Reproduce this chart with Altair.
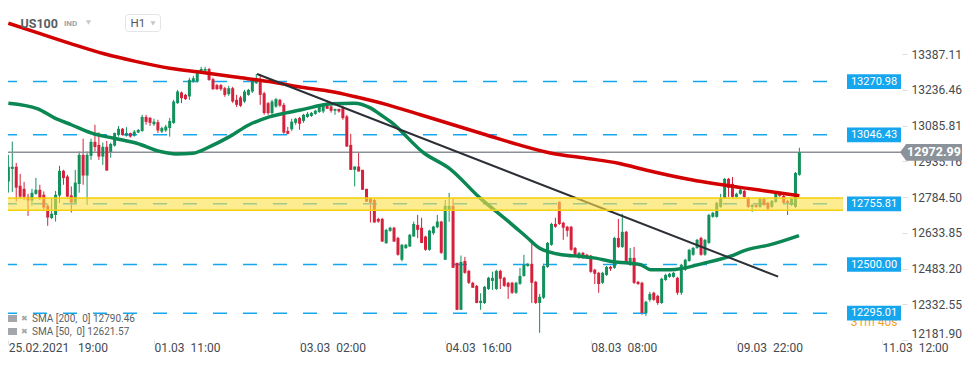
import altair as alt
import pandas as pd

# ---------------- data ----------------
opens = [12850,12903,12912,12832,12819,12785,12770,12798,12815,12794,12747,12696,12709,12791,12895,12871,12791,12761,12839,12962,
         12875,12958,13017,13004,12955,12996,12975,13001,13046,13072,13043,13054,13043,13056,13063,13122,13118,13091,13100,13060,
         13065,13075,13096,13180,13225,13215,13208,13271,13271,13313,13317,13324,13281,13256,13256,13243,13218,13243,13194,13204,
         13187,13215,13229,13264,13278,13222,13180,13138,13166,13194,13173,13063,13070,13097,13118,13105,13122,13126,13135,13143,
         13145,13169,13166,13148,13156,13159,13124,13004,12899,12913,12899,12819,12777,12772,12692,12692,12590,12642,12655,12612,
         12520,12569,12576,12618,12667,12655,12618,12562,12632,12657,12681,12520,12730,12747,12507,12309,12515,12473,12423,12410,
         12338,12338,12397,12431,12397,12473,12444,12423,12423,12381,12419,12452,12494,12503,12427,12338,12360,12490,12583,12671,
         12764,12676,12659,12659,12570,12528,12549,12541,12537,12478,12465,12423,12456,12490,12486,12612,12574,12638,12499,12528,
         12427,12423,12296,12351,12381,12368,12338,12435,12448,12448,12444,12381,12478,12515,12541,12570,12612,12541,12591,12701,
         12701,12743,12781,12861,12840,12785,12798,12810,12781,12743,12751,12743,12777,12760,12743,12764,12802,12789,12768,12751,
         12743,12878]
highs = [12962,13018,12928,12882,12848,12798,12819,12865,12836,12808,12756,12777,12810,12916,12899,12878,12829,12899,12976,13030,
         12976,13030,13089,13057,13014,13021,13014,13056,13084,13075,13079,13056,13067,13071,13131,13131,13122,13114,13110,13081,
         13089,13118,13194,13236,13229,13219,13287,13295,13320,13333,13333,13329,13287,13261,13261,13249,13253,13249,13215,13211,
         13236,13240,13280,13303,13303,13228,13185,13194,13202,13198,13181,13080,13114,13118,13122,13135,13143,13143,13152,13169,
         13180,13191,13173,13156,13156,13169,13131,13051,12913,12972,12899,12819,12781,12777,12697,12697,12650,12659,12659,12617,
         12587,12587,12629,12681,12709,12697,12621,12646,12663,12709,12684,12772,12802,12777,12507,12538,12532,12478,12427,12414,
         12379,12410,12448,12470,12478,12478,12448,12427,12427,12427,12486,12541,12507,12604,12431,12376,12503,12595,12676,12697,
         12765,12680,12663,12663,12574,12553,12553,12545,12541,12482,12469,12469,12494,12494,12617,12692,12714,12642,12570,12574,
         12431,12427,12347,12385,12385,12372,12444,12461,12465,12469,12448,12503,12524,12566,12574,12608,12617,12608,12714,12722,
         12764,12798,12865,12865,12869,12802,12819,12815,12785,12756,12756,12781,12781,12764,12772,12802,12806,12794,12772,12781,
         12890,12992]
lows = [12803,12806,12765,12780,12772,12705,12747,12794,12772,12730,12663,12691,12681,12759,12836,12784,12719,12759,12803,12836,
        12751,12941,12976,12941,12920,12895,12950,12997,13039,13043,13039,13035,13039,13054,13059,13089,13084,13084,13054,13054,
        13059,13039,13093,13177,13180,13194,13194,13266,13266,13309,13312,13274,13236,13236,13232,13207,13211,13181,13164,13164,
        13181,13211,13223,13261,13173,13131,13131,13131,13160,13164,13051,13048,13063,13089,13068,13097,13118,13122,13131,13139,
        13138,13156,13140,13131,13140,13110,12996,12899,12829,12892,12815,12764,12677,12677,12676,12595,12587,12638,12595,12537,
        12513,12566,12574,12617,12611,12590,12558,12558,12625,12653,12545,12520,12680,12486,12309,12309,12461,12418,12402,12337,
        12309,12334,12393,12393,12393,12397,12406,12355,12376,12376,12414,12448,12490,12338,12334,12212,12355,12486,12579,12655,
        12667,12604,12617,12558,12532,12524,12524,12524,12465,12418,12381,12418,12452,12473,12482,12570,12570,12507,12494,12418,
        12414,12288,12284,12343,12347,12330,12334,12431,12444,12444,12372,12372,12473,12511,12537,12566,12537,12537,12587,12697,
        12697,12739,12777,12785,12781,12781,12794,12781,12739,12722,12739,12739,12747,12730,12739,12760,12785,12756,12709,12747,
        12739,12874]
closes = [12912,12912,12824,12786,12785,12770,12802,12815,12781,12740,12698,12714,12794,12895,12864,12786,12761,12845,12962,12875,
          12962,13017,12995,12955,12996,12896,13008,13054,13072,13046,13054,13039,13060,13067,13122,13101,13097,13102,13065,13075,
          13081,13105,13187,13229,13201,13197,13278,13285,13313,13324,13324,13278,13239,13239,13239,13215,13243,13187,13173,13169,
          13229,13236,13278,13278,13215,13138,13138,13187,13197,13170,13056,13051,13102,13114,13093,13131,13135,13139,13148,13164,
          13176,13156,13148,13156,13145,13117,12997,12899,12913,12892,12815,12765,12761,12677,12681,12597,12646,12655,12597,12541,
          12583,12583,12625,12671,12646,12591,12562,12643,12660,12681,12549,12747,12747,12486,12309,12511,12465,12423,12402,12338,
          12347,12406,12444,12444,12473,12440,12410,12406,12381,12423,12452,12499,12503,12423,12338,12364,12494,12591,12671,12659,
          12671,12655,12642,12562,12537,12549,12528,12528,12469,12461,12418,12465,12490,12482,12612,12574,12638,12511,12528,12423,
          12418,12296,12343,12376,12351,12338,12440,12456,12461,12465,12381,12499,12520,12562,12570,12604,12541,12604,12709,12718,
          12760,12781,12861,12823,12785,12798,12815,12785,12743,12751,12743,12777,12751,12735,12768,12798,12789,12760,12760,12777,
          12886,12973]

sma200_idx = [0, 7.5, 16, 24.3, 32.6, 41, 49.4, 57.7, 66.3, 74.5, 82, 87.9, 96.4, 104.7, 113, 121.5, 129.8, 138, 146.7, 155,
              162.5, 172.5, 186.8, 193.4, 201]
sma200_val = [13517, 13476, 13430, 13388, 13355, 13327, 13309, 13290, 13271, 13247, 13229, 13208, 13173, 13131, 13089, 13046,
              13004, 12969, 12948, 12927, 12896, 12860, 12823, 12808, 12790]

sma50_idx = [0, 7.5, 11.7, 16, 21, 26.8, 32.6, 38.6, 42.6, 46.9, 51.2, 56.2, 61.2, 66.3, 74.5, 82, 87.9, 92.1, 94.6, 97.2,
             105.5, 112.2, 119.8, 126.6, 131.6, 134.9, 137.4, 140.6, 145.7, 149.2, 153.2, 157.5, 160.7, 163.2, 168.3, 176.8,
             183.3, 187.6, 193.4, 200.9]
sma50_val = [13180, 13156, 13118, 13089, 13055, 13032, 13011, 12976, 12966, 12969, 12997, 13039, 13089, 13122, 13152, 13177,
             13180, 13159, 13131, 13101, 12971, 12903, 12781, 12688, 12617, 12570, 12553, 12541, 12534, 12527, 12513, 12506,
             12499, 12478, 12478, 12506, 12534, 12562, 12583, 12622]

trend_idx = [63.2, 195.6]
trend_val = [13303, 12449]

levels = [13270.98, 13046.43, 12755.81, 12500.00, 12295.01]
zone = [12729, 12780]
last_price = 12972.99

x_tick_idx = [0, 37, 74, 111, 148, 185, 222]
x_tick_lab = ["25.02.2021\u00a0\u00a0\u00a019:00", "01.03\u00a0\u00a011:00", "03.03\u00a0\u00a002:00",
              "04.03\u00a0\u00a016:00", "08.03\u00a0\u00a008:00", "09.03\u00a0\u00a022:00", "11.03\u00a0\u00a012:00"]
y_ticks = [12181.90, 12332.55, 12483.20, 12633.85, 12784.50, 12935.16, 13085.81, 13236.46, 13387.11]

legend_lines = ["SMA [200,\u00a0 0] 12790.46", "SMA [50,\u00a0 0] 12621.57"]

# ---------------- styling ----------------
W, H = 894, 332
GREEN = "#13905c"
RED = "#d5213b"
BLUE = "#16a6ee"
FONT = "Roboto"

xs = alt.Scale(domain=[1.18, 225.8], nice=False, zero=False)
ys = alt.Scale(domain=[12181.9, 13581.0], nice=False, zero=False)

lab_expr = " : ".join(f"datum.value == {v} ? '{t}'" for v, t in zip(x_tick_idx, x_tick_lab)) + " : ''"

x_axis = alt.Axis(values=x_tick_idx, labelExpr=lab_expr, labelAlign="left", labelFont=FONT, labelFontSize=12,
                  labelColor="#454a50", tickColor="#e2e2e2", tickSize=4, labelPadding=-2, domain=False,
                  grid=False, title=None, orient="bottom", labelOverlap=False)
y_axis = alt.Axis(values=y_ticks, format=".2f", orient="right", labelFont=FONT, labelFontSize=12,
                  labelColor="#454a50", tickColor="#dedede", tickSize=5, labelPadding=4, domain=False,
                  grid=False, title=None, labelFlush=True, labelOverlap=False)


def X(f):
    return alt.X(f, type="quantitative", scale=xs, axis=x_axis)


def Y(f):
    return alt.Y(f, type="quantitative", scale=ys, axis=y_axis)


candles = pd.DataFrame({"i": list(range(len(opens))), "o": opens, "h": highs, "l": lows, "c": closes})
col = alt.condition("datum.c >= datum.o", alt.value(GREEN), alt.value(RED))

wicks = alt.Chart(candles).mark_rule(strokeWidth=1).encode(x=X("i"), y=Y("l"), y2="h:Q", color=col)
bodies = alt.Chart(candles).mark_bar(size=3).encode(x=X("i"), y=Y("o"), y2="c:Q", color=col)

lv = pd.DataFrame({"v": levels, "lab": [f"{v:.2f}" for v in levels]})
level_lines = alt.Chart(lv).mark_rule(strokeWidth=1.5, strokeDash=[14, 16], color=BLUE).encode(
    x=alt.value(-5), x2=alt.value(835), y=Y("v"))

price_df = pd.DataFrame({"v": [last_price], "lab": [f"{last_price:.2f}"]})
price_line = alt.Chart(price_df).mark_rule(strokeWidth=1.5, color="#8b9096").encode(
    x=alt.value(-8), x2=alt.value(893), y=Y("v"))

s200 = pd.DataFrame({"i": sma200_idx, "v": sma200_val})
s50 = pd.DataFrame({"i": sma50_idx, "v": sma50_val})
sma200 = alt.Chart(s200).mark_line(color="#d20000", strokeWidth=3.5, interpolate="monotone").encode(x=X("i"), y=Y("v"))
sma50 = alt.Chart(s50).mark_line(color="#0b8753", strokeWidth=3.5, interpolate="monotone").encode(x=X("i"), y=Y("v"))

tr = pd.DataFrame({"i": trend_idx, "v": trend_val})
trend = alt.Chart(tr).mark_line(color="#2c3036", strokeWidth=2).encode(x=X("i"), y=Y("v"))

zdf = pd.DataFrame({"lo": [zone[0]], "hi": [zone[1]]})
zone_fill = alt.Chart(zdf).mark_rect(color="#fde047", opacity=0.6).encode(
    x=alt.value(-8), x2=alt.value(835), y=Y("lo"), y2="hi:Q")
zb = pd.DataFrame({"v": zone})
zone_border = alt.Chart(zb).mark_rule(color="#f4cf0a", strokeWidth=1.5).encode(
    x=alt.value(-8), x2=alt.value(835), y=Y("v"))

one = pd.DataFrame({"k": [0]})
countdown = alt.Chart(one).mark_text(text="31m 40s", font=FONT, fontSize=12, color="#f5a21b",
                                     align="center", baseline="middle").encode(
    x=alt.value(866), y=alt.value(314))

level_boxes = alt.Chart(lv).transform_calculate(top="datum.v + 31", bot="datum.v - 31").mark_rect(color=BLUE).encode(
    x=alt.value(839), x2=alt.value(893), y=Y("top"), y2="bot:Q")
level_text = alt.Chart(lv).mark_text(font=FONT, fontSize=11, color="white", align="center", baseline="middle").encode(
    x=alt.value(866), y=Y("v"), text="lab:N")

price_box = alt.Chart(price_df).mark_point(
    shape="M -1 0 L -0.8 -0.27 L 1 -0.27 L 1 0.27 L -0.8 0.27 Z", size=3844, filled=True,
    color="#8b9299", opacity=1).encode(x=alt.value(923), y=Y("v"))
price_text = alt.Chart(price_df).mark_text(font=FONT, fontSize=12.5, fontWeight="bold", color="white",
                                           align="center", baseline="middle").encode(
    x=alt.value(926), y=Y("v"), text="lab:N")

# header
hdr_sym = alt.Chart(one).mark_text(text="US100", font=FONT, fontSize=12.5, fontWeight="bold", color="#585e64",
                                   align="left", baseline="middle").encode(x=alt.value(12.5), y=alt.value(15.5))
hdr_ind = alt.Chart(one).mark_text(text="IND", font=FONT, fontSize=8, fontWeight="bold", color="#9aa3ad",
                                   align="left", baseline="middle").encode(x=alt.value(56), y=alt.value(16))
hdr_tri1 = alt.Chart(one).mark_point(shape="triangle-down", size=28, filled=True, color="#c3c9cf", opacity=1).encode(
    x=alt.value(80.5), y=alt.value(14.5))
hdr_box = alt.Chart(one).mark_rect(fill="white", stroke="#e1e4e8", strokeWidth=1, cornerRadius=3).encode(
    x=alt.value(117.5), x2=alt.value(152.5), y=alt.value(6.5), y2=alt.value(23.5))
hdr_tf = alt.Chart(one).mark_text(text="H1", font=FONT, fontSize=11.5, color="#50565c",
                                  align="left", baseline="middle").encode(x=alt.value(122.5), y=alt.value(15.5))
hdr_tri2 = alt.Chart(one).mark_point(shape="triangle-down", size=28, filled=True, color="#c3c9cf", opacity=1).encode(
    x=alt.value(145), y=alt.value(15.5))

# legend rows (bottom left)
leg_df = pd.DataFrame({"t": legend_lines, "row": [0, 1]})
leg_text = alt.Chart(leg_df).transform_calculate(yy="311 + datum.row * 13").mark_text(
    font=FONT, fontSize=10, color="#5a5f65", align="left", baseline="middle").encode(
    x=alt.value(24), y=alt.Y("yy:Q", scale=None), text="t:N")
leg_icon = alt.Chart(leg_df).transform_calculate(y1="307 + datum.row * 13", y2="314 + datum.row * 13").mark_rect(
    color="#a3a7ab").encode(x=alt.value(-1), x2=alt.value(9), y=alt.Y("y1:Q", scale=None), y2="y2:Q")
leg_x = alt.Chart(leg_df).transform_calculate(yy="310.5 + datum.row * 13").mark_text(
    text="\u2716", fontSize=8, color="#a3a7ab", align="center", baseline="middle").encode(
    x=alt.value(16), y=alt.Y("yy:Q", scale=None))

chart = alt.layer(
    wicks, level_lines, price_line, bodies, sma50, sma200, trend,
    zone_fill, zone_border, countdown, level_boxes, level_text, price_box, price_text,
    hdr_sym, hdr_ind, hdr_tri1, hdr_box, hdr_tf, hdr_tri2, leg_icon, leg_x, leg_text,
).properties(
    width=W, height=H,
    autosize=alt.AutoSizeParams(type="none"),
    padding={"left": 0, "top": 0, "right": 60, "bottom": 16},
    background="white",
).configure_view(stroke=None)

chart.save("out.html", embed_options={"renderer": "svg", "actions": False})
